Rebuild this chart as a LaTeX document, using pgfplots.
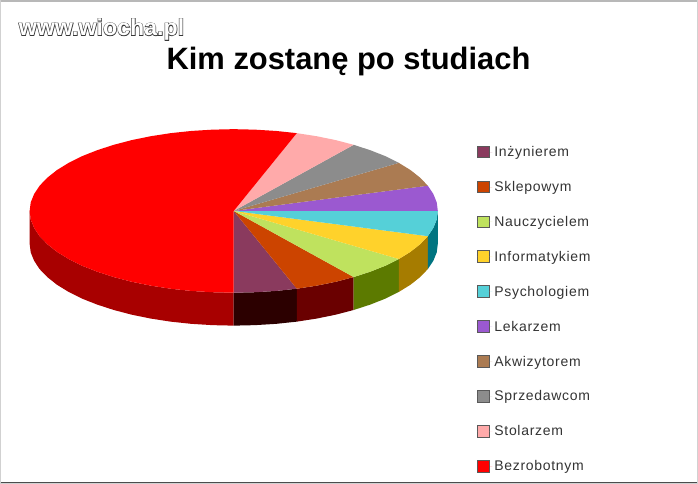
\documentclass[border=0pt]{standalone}
\usepackage{fontspec}
\usepackage{pgfplots}
\pgfplotsset{compat=1.18}
\setmainfont{Liberation Sans}

\definecolor{inzT}{HTML}{8A3A5E}
\definecolor{sklT}{HTML}{CC4400}
\definecolor{nauT}{HTML}{BFE25E}
\definecolor{infT}{HTML}{FFD22B}
\definecolor{psyT}{HTML}{55D0D8}
\definecolor{lekT}{HTML}{9B59D0}
\definecolor{akwT}{HTML}{AB7B52}
\definecolor{sprT}{HTML}{8C8C8C}
\definecolor{stoT}{HTML}{FFAAAA}
\definecolor{bezT}{HTML}{FF0000}
\definecolor{inzS}{HTML}{2C0000}
\definecolor{sklS}{HTML}{6A0000}
\definecolor{nauS}{HTML}{5C7A00}
\definecolor{infS}{HTML}{A67C00}
\definecolor{psyS}{HTML}{007480}
\definecolor{bezS}{HTML}{A80000}

\begin{document}
\begin{tikzpicture}
\begin{axis}[
  scale only axis,
  width=697pt, height=483pt,
  xmin=0, xmax=698,
  ymin=0, ymax=484,
  y dir=reverse,
  ticks=none,
  clip=false,
  axis line style={draw=black!18, line width=1pt},
  legend cell align=left,
  legend image code/.code={
    \draw[#1, draw=black!65, line width=.9pt] (0pt,-5.5pt) rectangle (12pt,6pt);
    \path (0pt,0pt) -- (15pt,0pt);
  },
  legend style={
    at={(axis cs:474,142)}, anchor=north west,
    draw=none, fill=none, text=black!80,
    font=\fontsize{14}{14}\selectfont\addfontfeature{LetterSpace=5},
    row sep=19.3pt,
  },
]
% side walls (5 px slices visible at the front, the rest is the big red one)
\addplot[fill=bezS, draw=none, forget plot] coordinates {
 (29,211)(30.1,219.6)(33.5,228)(39,236.3)(46.7,244.3)(56.4,252)(68.1,259.2)(81.5,265.9)(96.7,271.9)(113.3,277.3)(131.2,282)(150.3,285.9)(170.3,289)(191,291.2)(212.1,292.5)(233.5,293)
 (233.5,326)(212.1,325.5)(191,324.2)(170.3,322)(150.3,318.9)(131.2,315)(113.3,310.3)(96.7,304.9)(81.5,298.9)(68.1,292.2)(56.4,285)(46.7,277.3)(39,269.3)(33.5,261)(30.1,252.6)(29,244)
} --cycle;
\addplot[fill=inzS, draw=none, forget plot] coordinates {
 (233.5,293)(254.9,292.5)(276,291.2)(296.7,289)(296.7,322)(276,324.2)(254.9,325.5)(233.5,326)
} --cycle;
\addplot[fill=sklS, draw=none, forget plot] coordinates {
 (296.7,289)(316.7,285.9)(335.8,282)(353.7,277.3)(353.7,310.3)(335.8,315)(316.7,318.9)(296.7,322)
} --cycle;
\addplot[fill=nauS, draw=none, forget plot] coordinates {
 (353.7,277.3)(370.3,271.9)(385.5,265.9)(398.9,259.2)(398.9,292.2)(385.5,298.9)(370.3,304.9)(353.7,310.3)
} --cycle;
\addplot[fill=infS, draw=none, forget plot] coordinates {
 (398.9,259.2)(410.6,252)(420.3,244.3)(428,236.3)(428,269.3)(420.3,277.3)(410.6,285)(398.9,292.2)
} --cycle;
\addplot[fill=psyS, draw=none, forget plot] coordinates {
 (428,236.3)(433.5,228)(436.9,219.6)(438,211)(438,244)(436.9,252.6)(433.5,261)(428,269.3)
} --cycle;
% frame edges that are darker in the scan
\addplot[draw=black!70, line width=1.2pt, forget plot] coordinates {(0,483.4)(698,483.4)};
\addplot[draw=black!28, line width=1.4pt, forget plot] coordinates {(0,0.6)(698,0.6)};
% top of the pie, in legend order
\addplot[fill=inzT, draw=none] coordinates {
 (233.5,211)(233.5,293)(254.9,292.5)(276,291.2)(296.7,289)
} --cycle;
\addplot[fill=sklT, draw=none] coordinates {
 (233.5,211)(296.7,289)(316.7,285.9)(335.8,282)(353.7,277.3)
} --cycle;
\addplot[fill=nauT, draw=none] coordinates {
 (233.5,211)(353.7,277.3)(370.3,271.9)(385.5,265.9)(398.9,259.2)
} --cycle;
\addplot[fill=infT, draw=none] coordinates {
 (233.5,211)(398.9,259.2)(410.6,252)(420.3,244.3)(428,236.3)
} --cycle;
\addplot[fill=psyT, draw=none] coordinates {
 (233.5,211)(428,236.3)(433.5,228)(436.9,219.6)(438,211)
} --cycle;
\addplot[fill=lekT, draw=none] coordinates {
 (233.5,211)(438,211)(436.9,202.4)(433.5,194)(428,185.7)
} --cycle;
\addplot[fill=akwT, draw=none] coordinates {
 (233.5,211)(428,185.7)(420.3,177.7)(410.6,170)(398.9,162.8)
} --cycle;
\addplot[fill=sprT, draw=none] coordinates {
 (233.5,211)(398.9,162.8)(385.5,156.1)(370.3,150.1)(353.7,144.7)
} --cycle;
\addplot[fill=stoT, draw=none] coordinates {
 (233.5,211)(353.7,144.7)(335.8,140)(316.7,136.1)(296.7,133)
} --cycle;
\addplot[fill=bezT, draw=none] coordinates {
 (233.5,211)(296.7,133)(276,130.8)(254.9,129.5)(233.5,129)(212.1,129.5)(191,130.8)(170.3,133)(150.3,136.1)(131.2,140)(113.3,144.7)(96.7,150.1)(81.5,156.1)(68.1,162.8)(56.4,170)(46.7,177.7)(39,185.7)(33.5,194)(30.1,202.4)(29,211)(30.1,219.6)(33.5,228)(39,236.3)(46.7,244.3)(56.4,252)(68.1,259.2)(81.5,265.9)(96.7,271.9)(113.3,277.3)(131.2,282)(150.3,285.9)(170.3,289)(191,291.2)(212.1,292.5)(233.5,293)
} --cycle;
\legend{Inżynierem,Sklepowym,Nauczycielem,Informatykiem,Psychologiem,Lekarzem,Akwizytorem,Sprzedawcom,Stolarzem,Bezrobotnym}

% title and watermark
\node[anchor=base, inner sep=0pt, font=\fontsize{30.9}{32}\selectfont\bfseries] at (axis cs:348.5,69) {Kim zostanę po studiach};
\node[anchor=base west, inner sep=0pt, text=black!78, font=\fontsize{23.2}{24}\selectfont\bfseries\addfontfeature{FakeBold=5}] at (axis cs:18,35) {www.wiocha.pl};
\node[anchor=base west, inner sep=0pt, text=white, font=\fontsize{23.2}{24}\selectfont\bfseries] at (axis cs:18,35) {www.wiocha.pl};
\end{axis}
\end{tikzpicture}
\end{document}
